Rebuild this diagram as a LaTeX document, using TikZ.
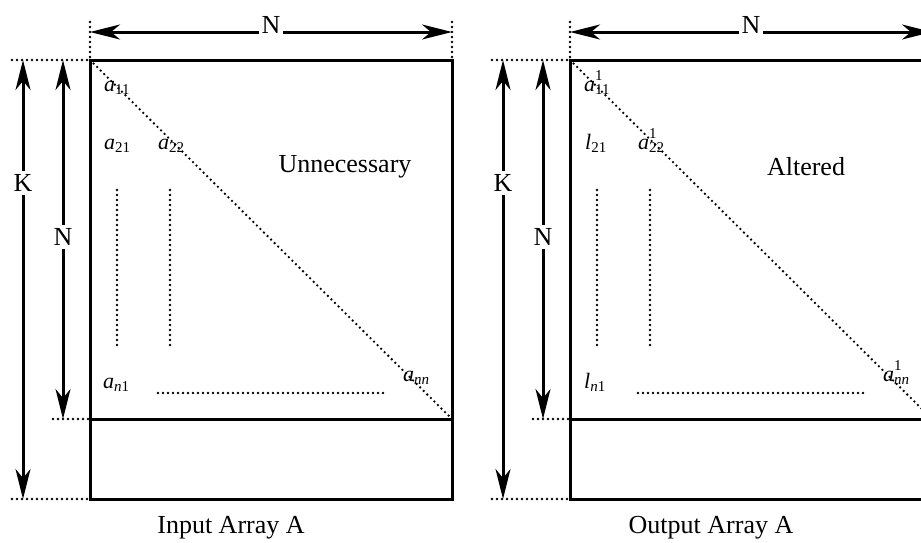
\documentclass[tikz,border=0pt]{standalone}
\usepackage{fontspec}
\setmainfont{Liberation Serif}
\usetikzlibrary{arrows.meta}
\newcommand{\subsz}{\fontsize{15}{15}\selectfont}
\newcommand{\msub}[2]{\textit{#1}\raisebox{-0.35ex}{\subsz #2}}
\newcommand{\msup}[2]{\textit{#1}\rlap{\raisebox{1.0ex}{\subsz 1}}\raisebox{-0.35ex}{\subsz #2}}
\begin{document}
\begin{tikzpicture}[x=1pt,y=-1pt,
  arr/.style={line width=3pt,{Stealth[length=30pt,width=15pt,inset=9pt]}-{Stealth[length=30pt,width=15pt,inset=9pt]}},
  dots/.style={line width=2.6pt,line cap=round,dash pattern=on 0pt off 5pt},
  box/.style={line width=3pt},
  lab/.style={font=\fontsize{26}{30}\selectfont,fill=white,inner sep=3pt},
  ttl/.style={font=\fontsize{26}{30}\selectfont,inner sep=0pt},
  ent/.style={font=\fontsize{22}{24}\selectfont,inner sep=0pt,anchor=base west}]
\useasboundingbox (0,0) rectangle (921,542);

% ---------- left panel ----------
\coordinate (LTL) at (90,60);
\coordinate (LTR) at (452,60);
\coordinate (LML) at (90,419);
\coordinate (LMR) at (452,419);
\coordinate (LBL) at (90,499);
\coordinate (LBR) at (452,499);
\draw[box] (LTL) rectangle (LBR);
\draw[box] (LML) -- (LMR);
\draw[dots] (LTL) -- (LMR);
% top N
\coordinate (LNa) at (90,32);
\coordinate (LNb) at (452,32);
\coordinate (LTd1) at (90,22);
\coordinate (LTd2) at (452,22);
\draw[dots] (LTd1) -- (LTL);
\draw[dots] (LTd2) -- (LTR);
\draw[arr] (LNa) -- (LNb);
\node[lab] (LNtop) at (271,25) {N};
% K
\coordinate (LKa) at (23,60);
\coordinate (LKb) at (23,499);
\coordinate (LKd1) at (12,60);
\coordinate (LKd2) at (12,499);
\draw[dots] (LKd1) -- (LTL);
\draw[dots] (LKd2) -- (LBL);
\draw[arr] (LKa) -- (LKb);
\node[lab] (LK) at (23,183) {K};
% side N
\coordinate (LSa) at (63,60);
\coordinate (LSb) at (63,419);
\coordinate (LSd) at (53,419);
\draw[dots] (LSd) -- (LML);
\draw[arr] (LSa) -- (LSb);
\node[lab] (LNs) at (63,237) {N};
% entries
\node[ent] (La11) at (104,91) {\msub{a}{11}};
\node[ent] (La21) at (104,149) {\msub{a}{21}};
\node[ent] (La22) at (158,149) {\msub{a}{22}};
\node[ent] (Lan1) at (103,388) {\msub{a}{\textit{n}1}};
\node[ent] (Lann) at (403,381) {\msub{a}{\textit{nn}}};
\coordinate (Lv1a) at (117,190); \coordinate (Lv1b) at (117,345);
\coordinate (Lv2a) at (170,190); \coordinate (Lv2b) at (170,345);
\coordinate (Lh1a) at (158,393); \coordinate (Lh1b) at (385,393);
\draw[dots] (Lv1a) -- (Lv1b);
\draw[dots] (Lv2a) -- (Lv2b);
\draw[dots] (Lh1a) -- (Lh1b);
\node[ttl] (Lun) at (345,167) {Unnecessary};
\node[ttl] (Lcap) at (231,528) {Input Array A};

% ---------- right panel ----------
\coordinate (RTL) at (570,60);
\coordinate (RTR) at (932,60);
\coordinate (RML) at (570,419);
\coordinate (RMR) at (932,419);
\coordinate (RBL) at (570,499);
\coordinate (RBR) at (932,499);
\draw[box] (RTL) rectangle (RBR);
\draw[box] (RML) -- (RMR);
\draw[dots] (RTL) -- (RMR);
\coordinate (RNa) at (570,32);
\coordinate (RNb) at (932,32);
\coordinate (RTd1) at (570,22);
\draw[dots] (RTd1) -- (RTL);
\draw[arr] (RNa) -- (RNb);
\node[lab] (RNtop) at (751,25) {N};
\coordinate (RKa) at (503,60);
\coordinate (RKb) at (503,499);
\coordinate (RKd1) at (492,60);
\coordinate (RKd2) at (492,499);
\draw[dots] (RKd1) -- (RTL);
\draw[dots] (RKd2) -- (RBL);
\draw[arr] (RKa) -- (RKb);
\node[lab] (RK) at (503,183) {K};
\coordinate (RSa) at (543,60);
\coordinate (RSb) at (543,419);
\coordinate (RSd) at (533,419);
\draw[dots] (RSd) -- (RML);
\draw[arr] (RSa) -- (RSb);
\node[lab] (RNs) at (543,237) {N};
\node[ent] (Ra11) at (584,91) {\msup{a}{11}};
\node[ent] (Rl21) at (585,149) {\msub{l}{21}};
\node[ent] (Ra22) at (638,149) {\msup{a}{22}};
\node[ent] (Rln1) at (584,388) {\msub{l}{\textit{n}1}};
\node[ent] (Rann) at (883,381) {\msup{a}{\textit{nn}}};
\coordinate (Rv1a) at (597,190); \coordinate (Rv1b) at (597,345);
\coordinate (Rv2a) at (650,190); \coordinate (Rv2b) at (650,345);
\coordinate (Rh1a) at (638,393); \coordinate (Rh1b) at (865,393);
\draw[dots] (Rv1a) -- (Rv1b);
\draw[dots] (Rv2a) -- (Rv2b);
\draw[dots] (Rh1a) -- (Rh1b);
\node[ttl] (Ralt) at (806,167) {Altered};
\node[ttl] (Rcap) at (711,528) {Output Array A};
\end{tikzpicture}
\end{document}
